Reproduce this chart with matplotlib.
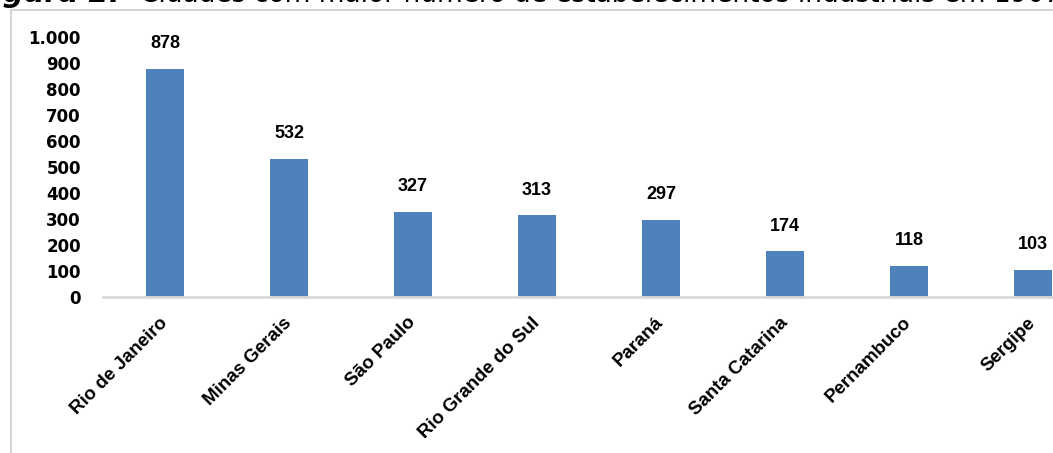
import matplotlib.pyplot as plt
import matplotlib.transforms as mtransforms
from matplotlib.lines import Line2D

estados = ['Rio de Janeiro', 'Minas Gerais', 'São Paulo', 'Rio Grande do Sul',
           'Paraná', 'Santa Catarina', 'Pernambuco', 'Sergipe']
estabelecimentos = [878, 532, 327, 313, 297, 174, 118, 103]
y_ticks = [0, 100, 200, 300, 400, 500, 600, 700, 800, 900, 1000]
y_labels = ['0', '100', '200', '300', '400', '500', '600', '700', '800', '900', '1.000']

cor = '#4F81BD'

fig = plt.figure(figsize=(10.53, 4.53), dpi=100)
# eixo passa da borda direita (figura recortada no original)
ax = fig.add_axes([103/1053, 156.5/453, 992/1053, 259/453])

x = list(range(len(estados)))
ax.bar(x, estabelecimentos, width=0.3, color=cor, zorder=2)
for xi, v in zip(x, estabelecimentos):
    ax.annotate(str(v), (xi, v), xytext=(0, 12), textcoords='offset points',
                ha='center', va='bottom', fontsize=13, fontweight='bold',
                family='Liberation Sans', clip_on=False)

ax.set_xlim(-0.5, len(estados) - 0.5)
ax.set_ylim(0, 1000)
ax.set_yticks(y_ticks)
ax.set_yticklabels(y_labels, fontsize=12, fontweight='bold', family='DejaVu Sans')
ax.set_xticks(x)
ax.set_xticklabels(estados, rotation=45, ha='right', va='center',
                   rotation_mode='anchor', fontsize=13.5, fontweight='bold',
                   family='Liberation Sans')
desloc = mtransforms.ScaledTranslation(7/72, 0, fig.dpi_scale_trans)
for lbl in ax.get_xticklabels():
    lbl.set_transform(lbl.get_transform() + desloc)
ax.tick_params(axis='y', length=0, pad=16)
ax.tick_params(axis='x', length=0, pad=17)

for s in ['top', 'right', 'left']:
    ax.spines[s].set_visible(False)
ax.spines['bottom'].set_color('#d9d9d9')
ax.spines['bottom'].set_linewidth(2)

# moldura cinza do gráfico
fig.add_artist(Line2D([11/1053, 11/1053], [0, 1 - 10/453], transform=fig.transFigure,
                      color='#d4d4d4', lw=1.5))
fig.add_artist(Line2D([11/1053, 1], [1 - 10/453, 1 - 10/453], transform=fig.transFigure,
                      color='#d4d4d4', lw=1.5))

# título cortado no topo (como no original)
fig.text(120/1053, 1 - 2/453, 'Figura 2.', ha='right', va='baseline', fontsize=21,
         family='DejaVu Sans', fontweight='bold', fontstyle='italic')
fig.text(140/1053, 1 - 2/453, 'Cidades com maior número de estabelecimentos industriais em 1907',
         ha='left', va='baseline', fontsize=19, family='DejaVu Sans')

fig.savefig('out.png', dpi=100)
